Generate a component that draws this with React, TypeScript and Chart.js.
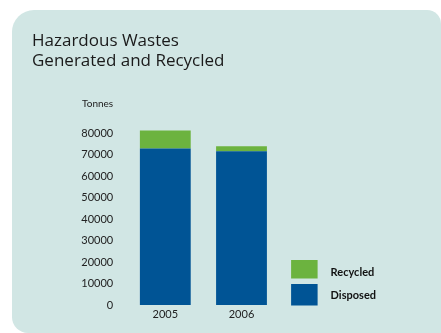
import React, { useEffect, useRef } from 'react';
import { Chart, registerables } from 'chart.js';

Chart.register(...registerables);

const titleLines = ['Hazardous Wastes', 'Generated and Recycled'];
const unitLabel = 'Tonnes';
const categories = ['2005', '2006'];
const disposed = [73000, 71700];
const recycled = [8400, 2300];
const seriesNames = ['Disposed', 'Recycled'];
const yMax = 80000;
const yStep = 10000;

const BLUE = '#005495';
const GREEN = '#6cb33f';
const PANEL = '#d1e6e4';
const FONT = 'Lato, "Open Sans", sans-serif';
const TITLE_FONT = '"Open Sans", Lato, sans-serif';

const unitPlugin = {
  id: 'unitLabel',
  afterDraw(chart: any) {
    const { ctx, chartArea } = chart;
    ctx.save();
    ctx.font = `10px ${FONT}`;
    ctx.fillStyle = '#222';
    ctx.textAlign = 'right';
    ctx.textBaseline = 'middle';
    ctx.fillText(unitLabel, chartArea.left - 14, chartArea.top - 30);
    ctx.restore();
  },
};

const legendPlugin = {
  id: 'sideLegend',
  afterDraw(chart: any) {
    const { ctx, chartArea } = chart;
    const ds = chart.data.datasets;
    const x = chartArea.right + 11.5;
    const b = chartArea.bottom;
    const items = [
      { d: ds[1], top: b - 45, h: 18.5, ty: b - 32.5 },
      { d: ds[0], top: b - 21, h: 21.5, ty: b - 9.5 },
    ];
    ctx.save();
    for (const it of items) {
      ctx.fillStyle = it.d.backgroundColor;
      ctx.fillRect(x, it.top, 26.5, it.h);
      ctx.font = `bold 11px ${FONT}`;
      ctx.fillStyle = '#111';
      ctx.textAlign = 'left';
      ctx.textBaseline = 'middle';
      ctx.fillText(it.d.label, x + 39.5, it.ty);
    }
    ctx.restore();
  },
};

export default function App() {
  const ref = useRef<HTMLCanvasElement>(null);

  useEffect(() => {
    if (!ref.current) return;
    const chart = new Chart(ref.current, {
      type: 'bar',
      data: {
        labels: categories,
        datasets: [
          { label: seriesNames[0], data: disposed, backgroundColor: BLUE, clip: false as any },
          { label: seriesNames[1], data: recycled, backgroundColor: GREEN, clip: false as any },
        ],
      },
      options: {
        responsive: false,
        animation: false,
        devicePixelRatio: 1,
        layout: { padding: { left: 32, right: 161.4, top: 10, bottom: 0 } },
        datasets: { bar: { barPercentage: 0.667, categoryPercentage: 1 } },
        plugins: {
          legend: { display: false },
          tooltip: { enabled: false },
          title: {
            display: true,
            text: titleLines,
            align: 'start',
            color: '#1a1a1a',
            font: { family: TITLE_FONT, size: 17, weight: 'normal', lineHeight: '20px' },
            padding: { top: 21, bottom: 62.4 },
          },
        },
        scales: {
          x: {
            stacked: true,
            grid: { display: false, drawTicks: false },
            border: { display: false },
            ticks: { color: '#222', font: { family: FONT, size: 11 }, padding: 3 },
            afterFit(scale: any) { scale.height = 28; },
          },
          y: {
            stacked: true,
            min: 0,
            max: yMax,
            grid: { display: false, drawTicks: false },
            border: { display: false },
            ticks: {
              stepSize: yStep,
              color: '#222',
              font: { family: FONT, size: 11 },
              padding: 14,
              callback: (v: any) => String(v),
            },
            afterFit(scale: any) { scale.width = 95.2; },
          },
        },
      },
      plugins: [unitPlugin, legendPlugin],
    } as any);
    return () => chart.destroy();
  }, []);

  return (
    <div style={{ position: 'absolute', left: 0, top: 0, width: 441, height: 333, background: '#fff', overflow: 'hidden' }}>
      <div style={{ position: 'absolute', left: 12, top: 10, width: 429, height: 323, background: PANEL, borderRadius: '22px 14px 0 16px' }} />
      <canvas ref={ref} width={441} height={333} style={{ position: 'absolute', left: 0, top: 0 }} />
    </div>
  );
}
